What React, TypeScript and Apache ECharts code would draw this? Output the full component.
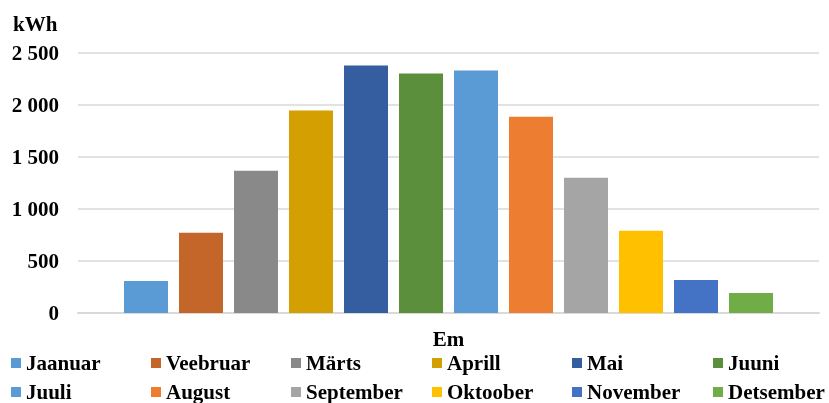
import React, { useEffect, useRef } from "react";
import * as echarts from "echarts";

// Monthly energy production (kWh)
const months = [
  "Jaanuar", "Veebruar", "Märts", "Aprill", "Mai", "Juuni",
  "Juuli", "August", "September", "Oktoober", "November", "Detsember",
];
const values = [308, 771, 1368, 1946, 2380, 2302, 2331, 1888, 1300, 790, 318, 193];
const colors = [
  "#5B9BD5", "#C4652A", "#898989", "#D49F00", "#355EA0", "#5B8F3B",
  "#5B9BD5", "#ED7D31", "#A5A5A5", "#FFC000", "#4472C4", "#70AD47",
];
const category = ["Em"];
const yTicks = { min: 0, max: 2500, interval: 500 };

const FONT = "'Liberation Serif', 'Times New Roman', serif";

export default function App() {
  const ref = useRef<HTMLDivElement>(null);

  useEffect(() => {
    if (!ref.current) return;
    const chart = echarts.init(ref.current, undefined, { renderer: "svg" });

    const textStyle = {
      fontFamily: FONT,
      fontWeight: "bold" as const,
      fontSize: 21,
      color: "#000",
    };

    const legendCols = [11, 151, 291, 432, 572, 713];
    const legendRows = [352.5, 381.5];

    chart.setOption({
      animation: false,
      grid: { left: 78, right: 10, top: 53, bottom: 90, containLabel: false },
      xAxis: {
        type: "category",
        data: category,
        axisLine: { lineStyle: { color: "#D9D9D9", width: 2 } },
        axisTick: { show: false },
        axisLabel: { ...textStyle, margin: 15 },
      },
      yAxis: {
        type: "value",
        min: yTicks.min,
        max: yTicks.max,
        interval: yTicks.interval,
        axisLine: { show: false },
        axisTick: { show: false },
        splitLine: { lineStyle: { color: "#D9D9D9", width: 1.5 } },
        axisLabel: {
          ...textStyle,
          margin: 19,
          formatter: (v: number) =>
            String(v).replace(/\B(?=(\d{3})+(?!\d))/g, " "),
        },
      },
      legend: months.map((m, i) => ({
        data: [m],
        left: legendCols[i % 6],
        top: legendRows[Math.floor(i / 6)],
        padding: 0,
        icon: "rect",
        itemWidth: 10,
        itemHeight: 10,
        textStyle: { ...textStyle, lineHeight: 21 },
        selectedMode: false,
      })),
      graphic: [
        {
          type: "text",
          x: 13,
          y: 23.6,
          style: {
            text: "kWh",
            font: `bold 21px ${FONT}`,
            fill: "#000",
            textVerticalAlign: "middle",
          },
        },
      ],
      series: months.map((m, i) => ({
        name: m,
        type: "bar",
        data: [values[i]],
        barWidth: 44,
        barGap: "25%",
        itemStyle: { color: colors[i] },
      })),
    });

    return () => chart.dispose();
  }, []);

  return (
    <div
      ref={ref}
      style={{ position: "fixed", left: 0, top: 0, width: 829, height: 403 }}
    />
  );
}
